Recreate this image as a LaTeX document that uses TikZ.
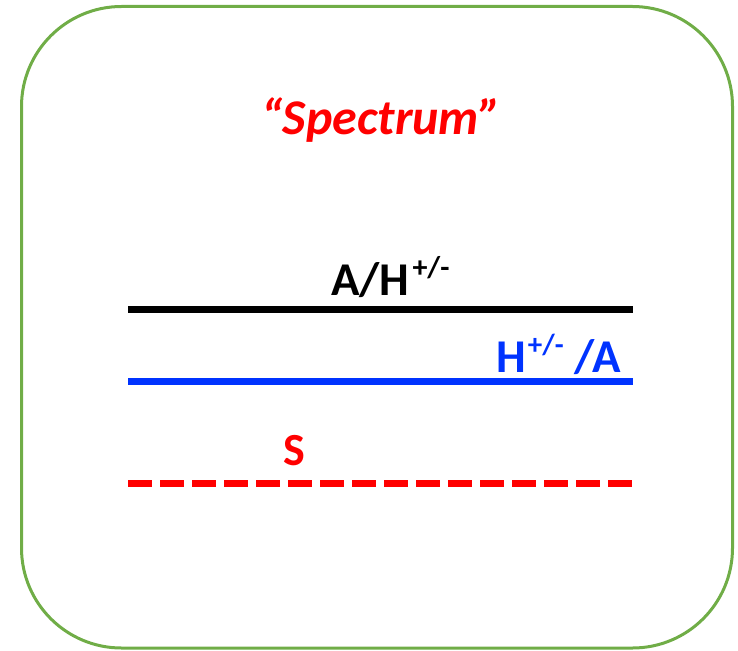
\documentclass[tikz,border=0pt]{standalone}
\usepackage{fontspec}
\setmainfont{Carlito}
\definecolor{framegreen}{RGB}{112,173,71}
\definecolor{lblue}{RGB}{0,51,255}
\definecolor{lred}{RGB}{255,0,0}
\begin{document}
\begin{tikzpicture}[x=1pt,y=-1pt,
  lvl/.style={line width=7pt},
  lbl/.style={inner sep=0pt,font=\bfseries}]
\useasboundingbox (0,0) rectangle (738,650);
\draw[framegreen,line width=3pt,rounded corners=100pt] (21.5,6.5) rectangle (732.5,648);
\node[lbl,anchor=base,text=lred,font=\bfseries\itshape\fontsize{50}{56}\selectfont] (title) at (381,134) {“Spectrum”};
\coordinate (a1) at (128,309);
\coordinate (a2) at (633,309);
\coordinate (b1) at (128,381);
\coordinate (b2) at (633,381);
\coordinate (c1) at (128,483);
\coordinate (c2) at (633,483);
\draw[lvl,black] (a1) -- (a2);
\draw[lvl,lblue] (b1) -- (b2);
\draw[lvl,lred,dash pattern=on 24pt off 8pt] (c1) -- (c2);
\node[lbl,anchor=base west,font=\bfseries\fontsize{47}{54}\selectfont] (la) at (331,295) {A/H\kern3pt\raisebox{0.38em}{\fontsize{30}{34}\selectfont +/-}};
\node[lbl,anchor=base west,text=lblue,font=\bfseries\fontsize{47}{54}\selectfont] (lb) at (496,372) {H\kern2pt\raisebox{0.38em}{\fontsize{29}{34}\selectfont +/-} /A};
\node[lbl,anchor=base west,text=lred,font=\bfseries\fontsize{46}{52}\selectfont] (ls) at (283,465) {S};
\end{tikzpicture}
\end{document}
